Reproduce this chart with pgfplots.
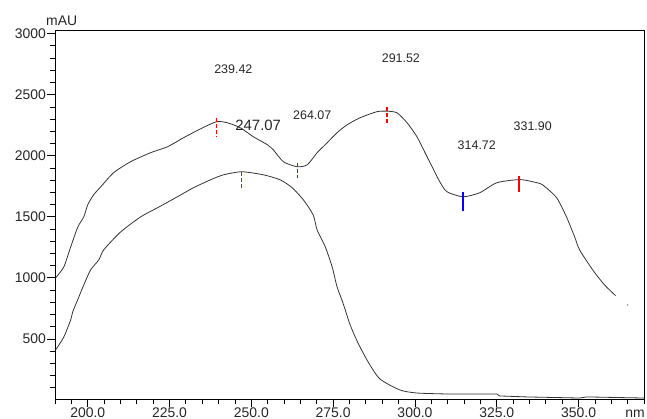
\documentclass[border=0pt]{standalone}
\usepackage{fontspec}
\setmainfont{Liberation Sans}
\usepackage{pgfplots}
\pgfplotsset{compat=1.18}
\definecolor{curve}{HTML}{333333}
\definecolor{pkred}{HTML}{FF0000}
\definecolor{pkblue}{HTML}{2A2AFF}
\begin{document}
\begin{tikzpicture}
\begin{axis}[name=ax,
  scale only axis, width=589bp, height=369bp,
  xmin=190, xmax=370, ymin=8, ymax=3030,
  axis line style={black, line width=0.8bp},
  xtick={200,225,...,350},
  xticklabels={200.0,225.0,250.0,275.0,300.0,325.0,350.0},
  minor xtick={190,195,...,370},
  ytick={500,1000,...,3000},
  yticklabels={500,1000,1500,2000,2500,3000},
  minor ytick={100,200,...,3000},
  tick align=outside, xtick pos=lower, ytick pos=left,
  major tick length=8bp, minor tick length=5bp,
  tick style={black, line width=0.8bp},
  /pgf/number format/assume math mode=true,
  ticklabel style={font=\fontsize{14}{16}\selectfont, text=black!85},
  xticklabel style={inner sep=0pt, yshift=-0.5bp},
  yticklabel style={inner sep=1bp},
]
% upper spectrum
\addplot[curve, line width=0.8bp, smooth, tension=0.4] coordinates {
(190.2,1000) (192.7,1090) (194.8,1254) (197.0,1418) (198.8,1500) (200.0,1598)
(201.8,1680) (204.0,1746) (207.9,1861) (213.1,1951) (219.2,2025) (224.4,2074)
(229.3,2148) (234.5,2221) (239.4,2279) (242.7,2270) (246.6,2230) (250.6,2156)
(254.9,2090) (256.7,2049) (259.8,1951) (264.0,1910) (267.1,1926) (270.1,2025)
(273.2,2107) (276.2,2189) (279.3,2254) (283.2,2311) (288.4,2361) (291.5,2365)
(294.5,2352) (297.6,2270) (300.6,2156) (303.7,1992) (307.6,1787) (309.8,1705)
(314.7,1664) (319.8,1697) (325.0,1779) (331.9,1805) (336.0,1787) (339.0,1762)
(343.3,1656) (346.3,1500) (348.8,1336) (350.3,1230) (354.3,1066) (357.9,943)
(361.3,855)
};
% lower spectrum
\addplot[curve, line width=0.8bp, smooth, tension=0.4] coordinates {
(190.2,410) (192.7,516) (194.8,656) (195.4,721) (197.3,844) (198.8,943)
(200.9,1066) (203.4,1148) (204.9,1230) (210.1,1377) (216.2,1500) (221.3,1574)
(227.4,1664) (232.3,1738) (237.5,1803) (241.5,1844) (247.1,1869) (253.7,1844)
(258.8,1803) (262.5,1738) (265.9,1639) (268.9,1516) (270.1,1393) (272.6,1254)
(274.7,1090) (276.2,926) (278.0,795) (280.2,615) (282.6,467) (285.7,311)
(289.3,172) (295.4,82) (300.6,57) (309.8,49)
};
\addplot[curve, line width=0.8bp] coordinates {
(309.8,49) (325.0,49) (325.9,33) (334.1,25) (350.3,16) (352.4,25) (370,16)
};
% peak / valley markers
\addplot[draw=pkred, line width=1.4bp, dash pattern=on 4bp off 2bp] coordinates {(239.42,2310) (239.42,2154)};
\addplot[draw=pkred, line width=1.4bp, dash pattern=on 4bp off 2bp] coordinates {(247.07,1867) (247.07,1720)};
\addplot[draw=pkblue, line width=1.4bp, dash pattern=on 4bp off 2bp] coordinates {(264.07,1941) (264.07,1818)};
\addplot[draw=pkred, line width=1.4bp, dash pattern=on 4bp off 2bp] coordinates {(291.52,2400) (291.52,2269)};
\addplot[draw=blue, line width=1.8bp] coordinates {(314.72,1704) (314.72,1548)};
\addplot[draw=red, line width=1.8bp] coordinates {(331.90,1835) (331.90,1704)};
\addplot[only marks, mark=*, mark size=0.5bp, gray] coordinates {(365,778)};
% labels
\node[font=\fontsize{12.5}{14}\selectfont, text=black!85] at (axis cs:244.5,2705) {239.42};
\node[font=\fontsize{15}{17}\selectfont, text=black!85] at (axis cs:252.1,2246) {247.07};
\node[font=\fontsize{12.5}{14}\selectfont, text=black!85] at (axis cs:268.6,2336) {264.07};
\node[font=\fontsize{12.5}{14}\selectfont, text=black!85] at (axis cs:295.7,2795) {291.52};
\node[font=\fontsize{12.5}{14}\selectfont, text=black!85] at (axis cs:318.9,2090) {314.72};
\node[font=\fontsize{12.5}{14}\selectfont, text=black!85] at (axis cs:336.0,2238) {331.90};
\end{axis}
\node[anchor=base west, inner sep=0pt, font=\fontsize{14}{16}\selectfont, text=black!85] at ([xshift=-9bp,yshift=4bp]ax.north west) {mAU};
\node[anchor=base east, inner sep=0pt, font=\fontsize{14}{16}\selectfont, text=black!85] at ([xshift=1bp,yshift=-18bp]ax.south east) {nm};
\pgfresetboundingbox
\path[use as bounding box] ([xshift=-55bp,yshift=-20bp]ax.south west) rectangle ([xshift=3bp,yshift=30bp]ax.north east);
\end{tikzpicture}
\end{document}
